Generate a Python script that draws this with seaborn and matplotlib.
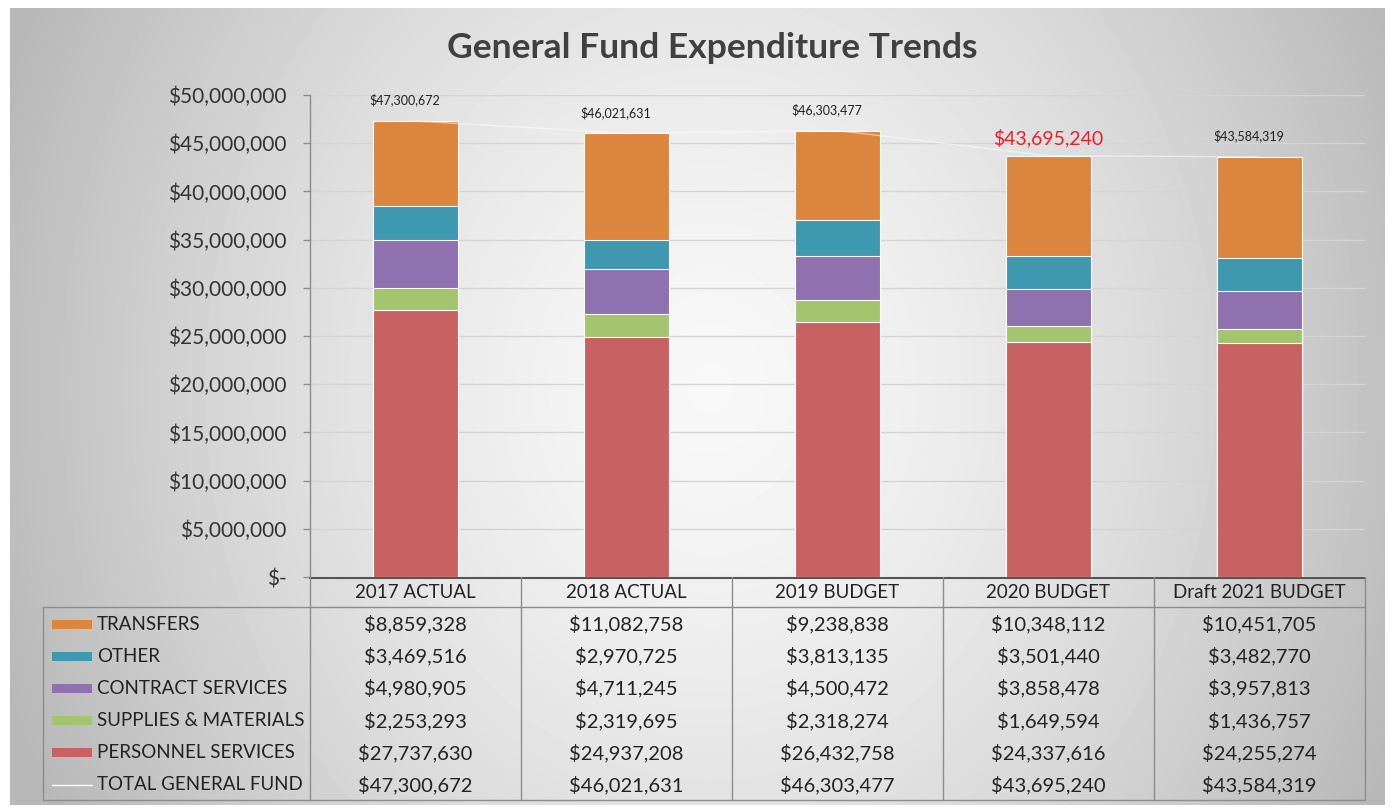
import numpy as np
import pandas as pd
import matplotlib
matplotlib.use("Agg")
import matplotlib.pyplot as plt
import seaborn as sns

# ---- data ----
categories = ["2017 ACTUAL", "2018 ACTUAL", "2019 BUDGET", "2020 BUDGET", "Draft 2021 BUDGET"]
transfers = [8859328, 11082758, 9238838, 10348112, 10451705]
other = [3469516, 2970725, 3813135, 3501440, 3482770]
contract_services = [4980905, 4711245, 4500472, 3858478, 3957813]
supplies_materials = [2253293, 2319695, 2318274, 1649594, 1436757]
personnel_services = [27737630, 24937208, 26432758, 24337616, 24255274]
total_general_fund = [47300672, 46021631, 46303477, 43695240, 43584319]

series_names = ["TRANSFERS", "OTHER", "CONTRACT SERVICES", "SUPPLIES & MATERIALS", "PERSONNEL SERVICES"]
series_values = [transfers, other, contract_services, supplies_materials, personnel_services]
series_colors = ["#DC853E", "#3E98B0", "#8F71AF", "#A4C46F", "#C86262"]

sns.set_theme(style="white")
plt.rcParams['font.family'] = ['Lato', 'DejaVu Sans']

W, H = 1390, 808
fig = plt.figure(figsize=(W / 100, H / 100), dpi=100)
fig.patch.set_facecolor("white")

# ---- background gradient ----
bg = fig.add_axes([10 / W, 1 - 805 / H, 1375 / W, 797 / H])
bg.set_axis_off()
yy, xx = np.mgrid[0:797, 0:1375]
dx = (xx - 700) / 690.0
dy = (yy - 380) / 800.0
r = np.sqrt(dx ** 2 + dy ** 2)
val = np.clip(0.97 - 0.22 * r ** 1.5, 0.72, 1.0)
bg.imshow(val, cmap="gray", vmin=0, vmax=1, aspect="auto", interpolation="bilinear")

def px(x0, y0, x1, y1):
    return [x0 / W, 1 - y1 / H, (x1 - x0) / W, (y1 - y0) / H]

# ---- main axes ----
ax = fig.add_axes(px(310, 95, 1365, 577))
ax.patch.set_alpha(0)

stack_order = list(reversed(series_names))  # bottom to top
cum = np.zeros(len(categories))
cums = {}
for name in stack_order:
    cum = cum + np.array(series_values[series_names.index(name)], dtype=float)
    cums[name] = cum.copy()

# draw tallest cumulative first so lower layers overlap
for name in series_names:
    color = series_colors[series_names.index(name)]
    d = pd.DataFrame({"category": categories, "value": cums[name]})
    sns.barplot(data=d, x="category", y="value", color=color, width=0.4,
                edgecolor="white", linewidth=0.8, saturation=1, ax=ax, zorder=3)

tot = pd.DataFrame({"category": categories, "value": total_general_fund})
sns.lineplot(data=tot, x="category", y="value", color="white", linewidth=1.0,
             alpha=0.5, ax=ax, zorder=4)

for i, v in enumerate(total_general_fund):
    red = (i == 3)
    if red:
        ax.annotate(f"${v:,.0f}", (i, v), xytext=(0, 13), textcoords="offset points",
                    ha="center", va="center", fontsize=14, color="#E8202A", zorder=5)
    else:
        ax.annotate(f"${v:,.0f}", (i, v), xytext=(-8, 15), textcoords="offset points",
                    ha="center", va="center", fontsize=9, color="#222222", zorder=5)

ax.set_xlim(-0.5, 4.5)
ax.set_ylim(0, 50000000)
ax.set_yticks(np.arange(0, 50000001, 5000000))
ax.set_yticklabels(["$-"] + [f"${t:,.0f}" for t in np.arange(5000000, 50000001, 5000000)],
                   fontsize=15, color="#333333")
ax.set_xticks([])
ax.set_xlabel("")
ax.set_ylabel("")
ax.yaxis.grid(True, color="#D4D4D4", linewidth=1, zorder=0)
ax.set_axisbelow(True)
for s in ["top", "right", "bottom"]:
    ax.spines[s].set_visible(False)
ax.spines["left"].set_color("#8C8C8C")
ax.spines["left"].set_linewidth(1)
ax.tick_params(axis="y", which="both", left=True, length=5, width=1, color="#8C8C8C", pad=12)

# ---- data table ----
tb = fig.add_axes(px(0, 577, W, 808))
tb.set_xlim(0, W)
tb.set_ylim(808, 577)
tb.set_axis_off()
tb.patch.set_alpha(0)

col_w = (1365 - 310) / 5
col_edges = [310 + i * col_w for i in range(6)]
line_c = "#8C8C8C"
top_y, head_y, bot_y = 577, 607, 800
tb.plot([310, 1365], [top_y + 0.5, top_y + 0.5], color="#555555", lw=1.5)
tb.plot([43, 1365], [head_y, head_y], color=line_c, lw=1)
tb.plot([43, 1365], [bot_y, bot_y], color=line_c, lw=1)
tb.plot([43, 43], [head_y, bot_y], color=line_c, lw=1)
for xe in col_edges:
    tb.plot([xe, xe], [top_y, bot_y], color=line_c, lw=1)

for i, c in enumerate(categories):
    tb.text(col_edges[i] + col_w / 2, 592, c, ha="center", va="center", fontsize=13.5, color="#222222")

row_labels = series_names + ["TOTAL GENERAL FUND"]
row_values = series_values + [total_general_fund]
row_y0, row_dy = 624, 32.2
for r_i, (lab, vals) in enumerate(zip(row_labels, row_values)):
    y = row_y0 + r_i * row_dy
    if r_i < len(series_colors):
        tb.add_patch(plt.Rectangle((52, y - 4.5), 40, 9, color=series_colors[r_i], lw=0))
    else:
        tb.plot([52, 92], [y, y], color="white", lw=1)
    tb.text(97, y, lab, ha="left", va="center", fontsize=13.5, color="#222222")
    for i, v in enumerate(vals):
        tb.text(col_edges[i] + col_w / 2, y, f"${v:,.0f}", ha="center", va="center",
                fontsize=14.5, color="#222222")

fig.text(712 / W, 1 - 48 / H, "General Fund Expenditure Trends", ha="center", va="center",
         fontsize=25.5, fontweight="bold", color="#404040")

fig.savefig("out.png", dpi=100)
